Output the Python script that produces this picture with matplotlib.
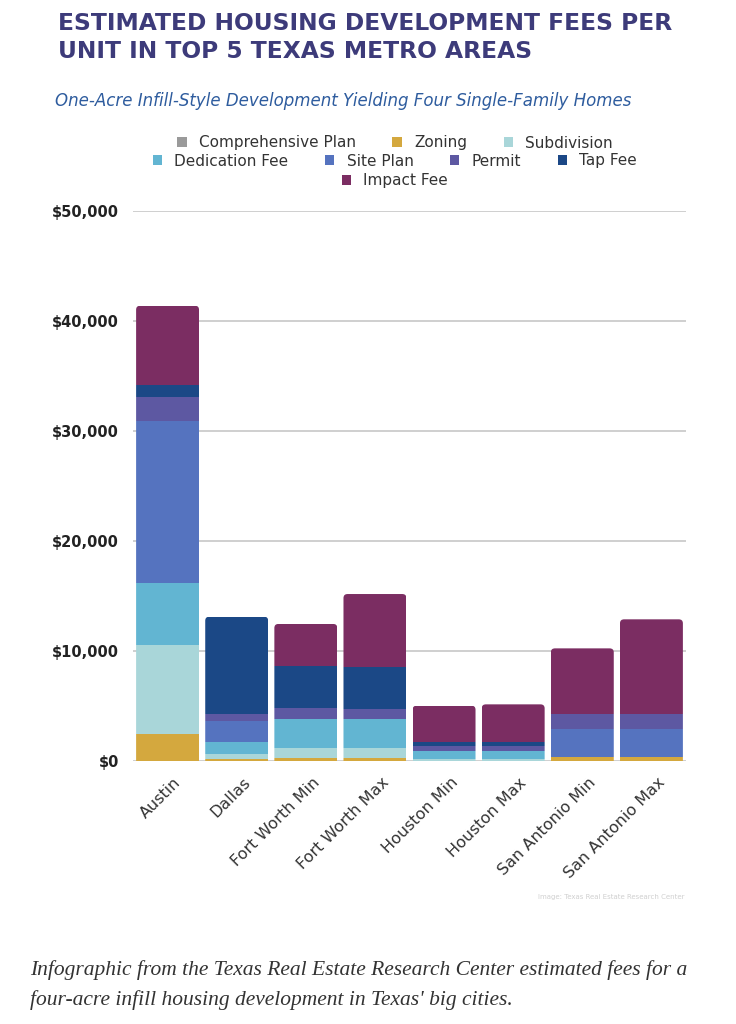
import matplotlib
matplotlib.use("Agg")
import matplotlib.pyplot as plt
import numpy as np
from matplotlib.patches import FancyBboxPatch
from matplotlib.ticker import FuncFormatter
from matplotlib.transforms import ScaledTranslation

# 数据
cities = ["Austin", "Dallas", "Fort Worth Min", "Fort Worth Max",
          "Houston Min", "Houston Max", "San Antonio Min", "San Antonio Max"]
fee_types = ["Comprehensive Plan", "Zoning", "Subdivision", "Dedication Fee",
             "Site Plan", "Permit", "Tap Fee", "Impact Fee"]
comprehensive = [0, 0, 0, 0, 0, 0, 0, 0]
zoning = [2450, 150, 240, 240, 0, 0, 400, 400]
subdivision = [8100, 490, 910, 910, 210, 210, 0, 0]
dedication = [5670, 1120, 2670, 2670, 730, 730, 0, 0]
site_plan = [14700, 1880, 0, 0, 0, 0, 2500, 2500]
permit = [2150, 600, 1030, 940, 450, 450, 1400, 1400]
tap_fee = [1120, 8880, 3790, 3820, 370, 370, 0, 0]
impact_fee = [7200, 0, 3820, 6600, 3270, 3390, 5940, 8580]
y_ticks = [0, 10000, 20000, 30000, 40000, 50000]

colors = ["#9a9a9a", "#d4a83e", "#a9d6d9", "#62b5d2",
          "#5573bf", "#5d58a2", "#1b4886", "#7b2d62"]
series = [comprehensive, zoning, subdivision, dedication,
          site_plan, permit, tap_fee, impact_fee]

fig = plt.figure(figsize=(7.36, 10.24), dpi=100)
ax = fig.add_axes([133 / 736, 1 - 761 / 1024, (686 - 133) / 736, (761 - 211) / 1024])

x = np.arange(len(cities))
width = 0.91
bottom = np.zeros(len(cities))
handles = []
for name, vals, c in zip(fee_types, series, colors):
    vals = np.array(vals, dtype=float)
    bars = ax.bar(x, vals, width, bottom=bottom, color=c, label=name, zorder=3)
    handles.append(bars)
    bottom += vals

# 圆角顶部：用圆角矩形裁剪每根柱子
for i, total in enumerate(bottom):
    clip = FancyBboxPatch((x[i] - width / 2, -2000), width, total + 2000,
                          boxstyle="round,pad=0,rounding_size=0.06",
                          mutation_aspect=6000, transform=ax.transData,
                          facecolor="none", edgecolor="none")
    ax.add_patch(clip)
    for bars in handles:
        bars[i].set_clip_path(clip)

ax.set_xlim(-0.5, len(cities) - 0.5)
ax.set_ylim(0, 50000)
ax.set_yticks(y_ticks)
ax.yaxis.set_major_formatter(FuncFormatter(lambda v, p: f"${v:,.0f}"))
ax.grid(axis="y", color="#cccccc", linewidth=1.3, zorder=0)
for s in ax.spines.values():
    s.set_visible(False)
ax.tick_params(axis="y", length=0, pad=10)
ax.tick_params(axis="x", length=0, pad=10)
for lab in ax.get_yticklabels():
    lab.set_fontweight("bold")
    lab.set_fontsize(10.5)
    lab.set_color("#222222")
ax.set_xticks(x)
ax.set_xticklabels(cities, rotation=45, ha="right", rotation_mode="anchor",
                   fontsize=11.5, color="#333333")
shift = ScaledTranslation(6 / 100, 0, fig.dpi_scale_trans)
for lab in ax.get_xticklabels():
    lab.set_transform(lab.get_transform() + shift)

# 标题
fig.text(58 / 736, 1 - 23 / 1024, "ESTIMATED HOUSING DEVELOPMENT FEES PER",
         fontsize=16.8, fontweight="heavy", color="#3d3b7a", va="center")
fig.text(58 / 736, 1 - 52 / 1024, "UNIT IN TOP 5 TEXAS METRO AREAS",
         fontsize=16.8, fontweight="heavy", color="#3d3b7a", va="center")
fig.text(55 / 736, 1 - 101 / 1024,
         "One-Acre Infill-Style Development Yielding Four Single-Family Homes",
         fontsize=12, style="italic", color="#2e5c9e", va="center")

# 图例分三行
rows = [(0, 3, 143), (3, 7, 161), (7, 8, 181)]
for a, b, yy in rows:
    leg = fig.legend(handles[a:b], fee_types[a:b], loc="center",
                     bbox_to_anchor=(395 / 736, 1 - yy / 1024), ncol=b - a,
                     frameon=False, fontsize=11, handlelength=0.6,
                     handleheight=0.6, handletextpad=0.8, columnspacing=2.4,
                     borderpad=0, labelcolor="#333333")

fig.text(685 / 736, 1 - 897 / 1024, "Image: Texas Real Estate Research Center",
         fontsize=5, color="#d0d0d0", ha="right", va="center")

fig.text(30 / 736, 1 - 970 / 1024,
         "Infographic from the Texas Real Estate Research Center estimated fees for a",
         fontsize=15.5, style="italic", family="Liberation Serif", color="#333333", va="center")
fig.text(30 / 736, 1 - 1000 / 1024,
         "four-acre infill housing development in Texas' big cities.",
         fontsize=15.5, style="italic", family="Liberation Serif", color="#333333", va="center")

fig.savefig("out.png", dpi=100)
plt.close(fig)
